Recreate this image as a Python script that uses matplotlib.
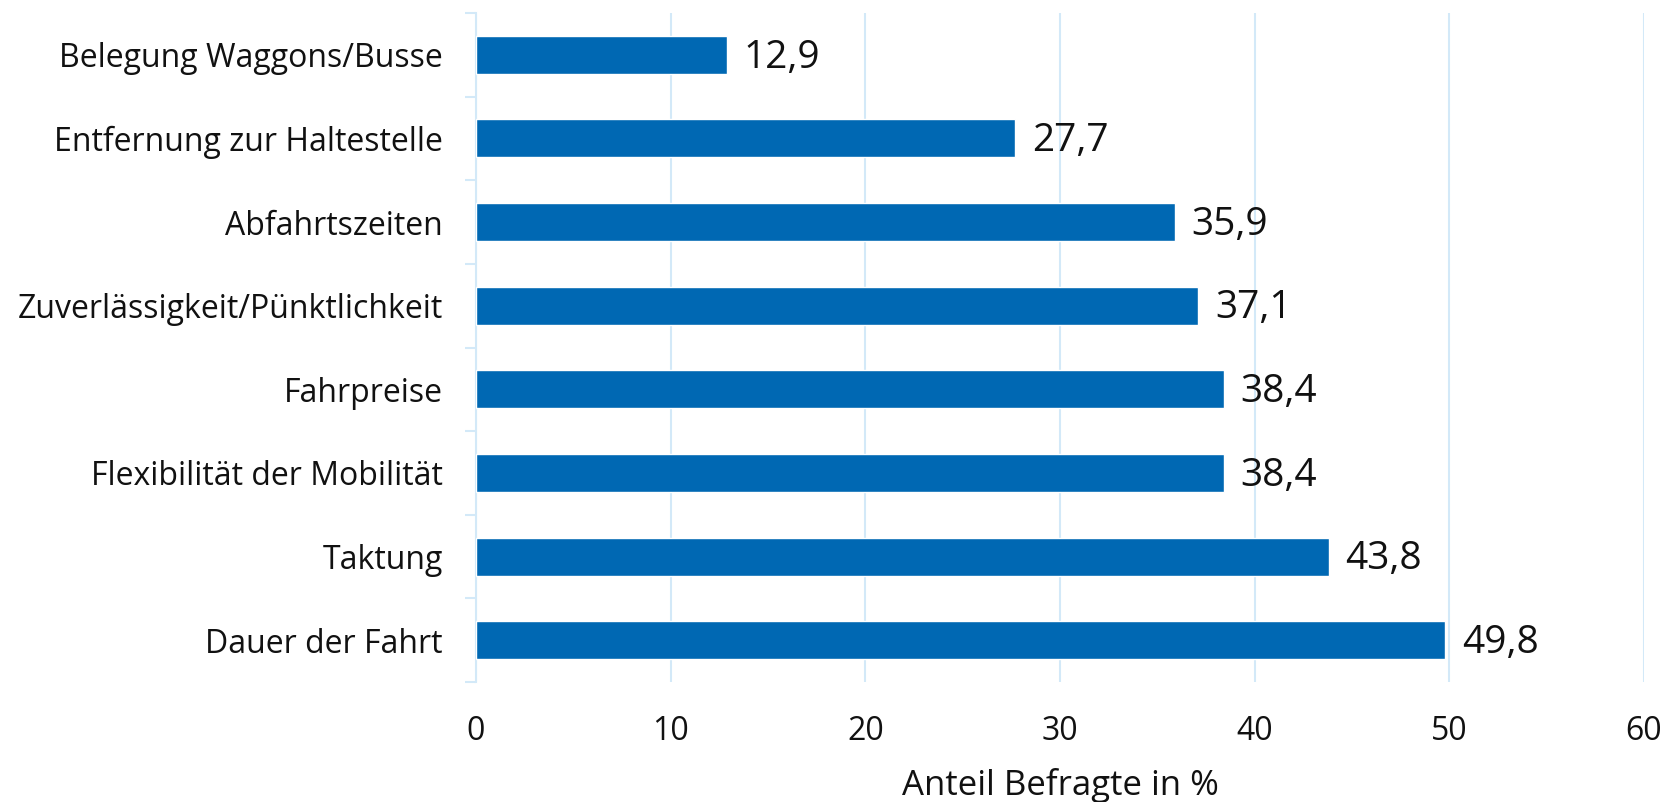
import matplotlib.pyplot as plt
import numpy as np

plt.rcParams['font.family'] = ['Open Sans', 'DejaVu Sans']

categories = ['Belegung Waggons/Busse', 'Entfernung zur Haltestelle', 'Abfahrtszeiten',
              'Zuverlässigkeit/Pünktlichkeit', 'Fahrpreise', 'Flexibilität der Mobilität',
              'Taktung', 'Dauer der Fahrt']
values = [12.9, 27.7, 35.9, 37.1, 38.4, 38.4, 43.8, 49.8]
xticks = [0, 10, 20, 30, 40, 50, 60]

bar_color = '#0068b3'
light = '#d3e9f8'

fig = plt.figure(figsize=(16.66, 8.02), dpi=100)
ax = fig.add_axes([476 / 1666, 1 - 682 / 802, 1168 / 1666, 669 / 802])

y = np.arange(len(categories))
ax.barh(y, values, height=0.455, color=bar_color, edgecolor='white', linewidth=1, zorder=3)

for yi, v in zip(y, values):
    ax.annotate(f'{v:.1f}'.replace('.', ','), xy=(v, yi), xytext=(12, -2),
                textcoords='offset points', va='center', ha='left', fontsize=28, color='#111111')

ax.set_xlim(0, 60)
ax.set_ylim(len(categories) - 0.5, -0.5)
ax.set_xticks(xticks)
ax.set_xticklabels([str(t) for t in xticks])
ax.set_yticks(y)
ax.set_yticklabels(categories)
ax.set_yticks(np.arange(len(categories) + 1) - 0.5, minor=True)

ax.tick_params(axis='y', which='major', length=0, pad=24, labelsize=23, labelcolor='#111111')
ax.tick_params(axis='y', which='minor', length=8, width=1.5, color=light)
ax.tick_params(axis='x', length=0, pad=24, labelsize=23, labelcolor='#111111')

ax.grid(axis='x', color=light, linewidth=1.5, zorder=0)
for s in ['top', 'right', 'bottom']:
    ax.spines[s].set_visible(False)
ax.spines['left'].set_color(light)
ax.spines['left'].set_linewidth(1.5)

ax.set_xlabel('Anteil Befragte in %', fontsize=25, color='#111111', labelpad=14)

fig.savefig('out.png', dpi=100)
